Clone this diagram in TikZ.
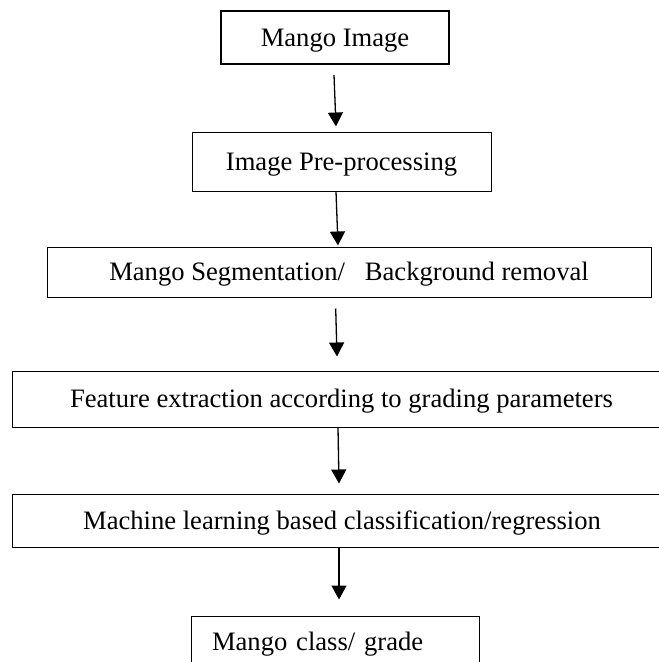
\documentclass[tikz,border=0pt]{standalone}
\usepackage{fontspec}
\setmainfont{Liberation Serif}
\usetikzlibrary{arrows.meta}
\begin{document}
\begin{tikzpicture}[x=1pt,y=-1pt,
  flowbox/.style={draw=black, line width=1pt, rectangle, inner sep=0pt,
    font=\fontsize{26.6}{32}\selectfont, text height=17.6pt, text depth=0pt},
  arr/.style={line width=1.3pt, -{Triangle[width=15pt,length=14pt]}}]
\useasboundingbox (0,0) rectangle (659,662);
\clip (0,0) rectangle (659,662);
\node[flowbox, line width=1.8pt, minimum width=228pt, minimum height=53pt] (b1) at (335,37.5) {Mango Image};
\node[flowbox, minimum width=299pt, minimum height=59pt] (b2) at (341.5,161.5) {Image Pre-processing};
\node[flowbox, minimum width=604pt, minimum height=50pt] (b3) at (349,272) {Mango Segmentation/~~~Background removal};
\node[flowbox, minimum width=659pt, minimum height=56pt] (b4) at (341.5,399) {Feature extraction according to grading parameters};
\node[flowbox, minimum width=660pt, minimum height=53pt] (b5) at (342,520.5) {Machine learning based classification/regression};
\node[flowbox, minimum height=52pt, text width=246pt, inner xsep=21pt, align=left] (b6) at (335,642) {Mango class/ grade};
\draw[arr] ([xshift=-1pt,yshift=-10pt]b1.south) -- ([xshift=-5.5pt,yshift=5pt]b2.north);
\draw[arr] ([xshift=-5.5pt]b2.south) -- ([xshift=-11pt,yshift=1pt]b3.north);
\draw[arr] ([xshift=-13.3pt,yshift=-11pt]b3.south) -- ([xshift=-4.5pt,yshift=14pt]b4.north);
\draw[arr] ([xshift=-3.5pt]b4.south) -- ([xshift=-3pt,yshift=10pt]b5.north);
\draw[arr] ([xshift=-3pt]b5.south) -- ([xshift=4pt,yshift=16pt]b6.north);
\end{tikzpicture}
\end{document}
